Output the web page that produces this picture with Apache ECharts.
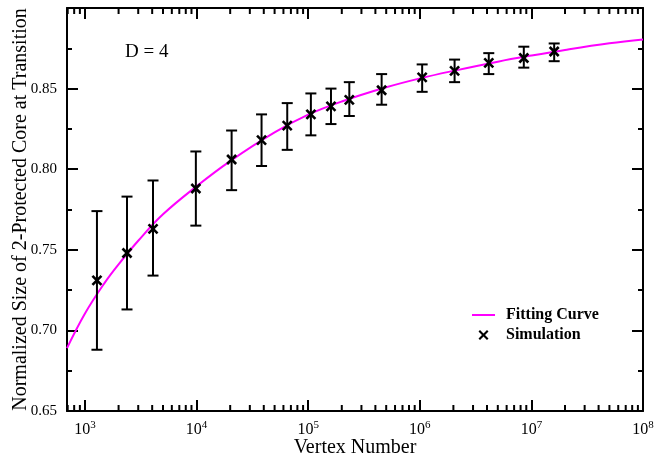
<!DOCTYPE html>
<html>
<head>
<meta charset="utf-8">
<script src="https://cdn.jsdelivr.net/npm/echarts@6/dist/echarts.min.js"></script>
<style>html,body{margin:0;padding:0;background:#fff}#c{width:654px;height:463px}</style>
</head>
<body>
<div id="c"></div>
<script>
// ---- data ----
const vertexN = [1280, 2380, 4070, 9850, 20600, 38200, 64900, 105700, 160000, 233600, 455000, 1050000, 2050000, 4150000, 8550000, 16000000];
const simMean = [0.731, 0.748, 0.763, 0.788, 0.806, 0.818, 0.827, 0.834, 0.839, 0.843, 0.849, 0.857, 0.861, 0.866, 0.869, 0.873];
const simLow  = [0.688, 0.713, 0.734, 0.765, 0.787, 0.802, 0.812, 0.821, 0.828, 0.833, 0.840, 0.848, 0.854, 0.859, 0.863, 0.867];
const simHigh = [0.774, 0.783, 0.793, 0.811, 0.824, 0.834, 0.841, 0.847, 0.850, 0.854, 0.859, 0.865, 0.868, 0.872, 0.876, 0.878];

const fitN   = [690, 1000, 1500, 2000, 3000, 5000, 10000, 20000, 50000, 100000, 200000, 500000, 1000000, 2000000, 5000000, 10000000, 20000000, 50000000, 100000000];
const fitVal = [0.689, 0.7105, 0.7295, 0.7410, 0.7556, 0.7720, 0.7894, 0.8050, 0.8228, 0.8338, 0.8420, 0.8508, 0.8563, 0.8610, 0.8667, 0.8705, 0.8740, 0.8781, 0.8805];

const xMin = 690, xMax = 100000000;
const yMin = 0.65, yMax = 0.90, yStep = 0.05;
const xMinorTicks = [];
for (let d = 2; d <= 7; d++) for (let m = 2; m <= 9; m++) {
  const v = m * Math.pow(10, d);
  if (v > xMin && v < xMax) xMinorTicks.push(v);
}

const FONT = 'Liberation Serif';
const chart = echarts.init(document.getElementById('c'), null, {renderer: 'canvas'});

const axisLineStyle = {color: '#000', width: 2};
const X_PATH = 'path://M0,1.5 L1.5,0 L5,3.5 L8.5,0 L10,1.5 L6.5,5 L10,8.5 L8.5,10 L5,6.5 L1.5,10 L0,8.5 L3.5,5 Z';
const LINE_PATH = 'path://M0,0 L23,0 L23,2 L0,2 Z';

chart.setOption({
  animation: false,
  backgroundColor: '#fff',
  grid: {left: 67, top: 8, width: 576, height: 403, containLabel: false, outerBoundsMode: 'none'},
  legend: {
    orient: 'vertical', left: 467, top: 302, itemWidth: 23, itemHeight: 10, itemGap: 4,
    textStyle: {fontFamily: FONT, fontWeight: 'bold', fontSize: 16, color: '#000', padding: [0, 0, 0, 6]},
    data: [
      {name: 'Fitting Curve', icon: LINE_PATH, itemStyle: {color: '#ff00ff'}},
      {name: 'Simulation', icon: X_PATH, itemStyle: {color: '#000'}}
    ]
  },
  graphic: [{
    type: 'text', left: 125, top: 43,
    style: {text: 'D = 4', fontFamily: FONT, fontSize: 19, fill: '#000'}
  }],
  xAxis: [{
    type: 'log', logBase: 10, min: xMin, max: xMax, position: 'bottom',
    name: 'Vertex Number', nameLocation: 'middle', nameGap: 27, nameMoveOverlap: false,
    nameTextStyle: {fontFamily: FONT, fontSize: 20, color: '#000'},
    axisLine: {lineStyle: axisLineStyle},
    axisTick: {inside: true, length: 11, lineStyle: {color: '#000', width: 2}},
    splitLine: {show: false},
    axisLabel: {
      showMinLabel: false, margin: 9, color: '#000', fontFamily: FONT, fontSize: 16,
      formatter: v => {
        const e = String(Math.round(Math.log10(v)));
        return '{b|10}{s|' + e + '}';
      },
      rich: {
        b: {fontFamily: FONT, fontSize: 16, color: '#000'},
        s: {fontFamily: FONT, fontSize: 11, color: '#000', padding: [0, 0, 9, 0]}
      }
    }
  }, {
    type: 'log', logBase: 10, min: xMin, max: xMax, position: 'top',
    axisLine: {lineStyle: axisLineStyle},
    axisTick: {inside: true, length: 11, lineStyle: {color: '#000', width: 2}},
    axisLabel: {show: false}, splitLine: {show: false}
  }],
  yAxis: [{
    type: 'value', min: yMin, max: yMax, interval: yStep, position: 'left',
    name: 'Normalized Size of 2-Protected Core at Transition', nameLocation: 'middle', nameGap: 36, nameMoveOverlap: false,
    nameTextStyle: {fontFamily: FONT, fontSize: 20, color: '#000'},
    axisLine: {show: true, lineStyle: axisLineStyle},
    axisTick: {show: true, inside: true, length: 11, lineStyle: {color: '#000', width: 2}},
    minorTick: {show: true, splitNumber: 2, length: 5, lineStyle: {color: '#000', width: 2}},
    splitLine: {show: false},
    axisLabel: {
      margin: 10, color: '#000', fontFamily: FONT, fontSize: 15, showMaxLabel: false,
      formatter: v => v.toFixed(2)
    }
  }, {
    type: 'value', min: yMin, max: yMax, interval: yStep, position: 'right',
    axisLine: {show: true, lineStyle: axisLineStyle},
    axisTick: {show: true, inside: true, length: 11, lineStyle: {color: '#000', width: 2}},
    minorTick: {show: true, splitNumber: 2, length: 5, lineStyle: {color: '#000', width: 2}},
    splitLine: {show: false},
    axisLabel: {show: false}
  }],
  series: [{
    name: 'Fitting Curve', type: 'line', xAxisIndex: 0, yAxisIndex: 0,
    data: fitN.map((n, i) => [n, fitVal[i]]),
    smooth: 0.4, symbol: 'none', lineStyle: {color: '#ff00ff', width: 2}, itemStyle: {color: '#ff00ff'},
    z: 2
  }, {
    name: 'Simulation', type: 'custom', xAxisIndex: 0, yAxisIndex: 0,
    data: vertexN.map((n, i) => [n, simMean[i], simLow[i], simHigh[i]]),
    encode: {x: 0, y: 1},
    itemStyle: {color: '#000'},
    z: 3,
    renderItem: (params, api) => {
      const c = api.coord([api.value(0), api.value(1)]);
      const lo = api.coord([api.value(0), api.value(2)]);
      const hi = api.coord([api.value(0), api.value(3)]);
      const st = {stroke: '#000', lineWidth: 2};
      const cap = 5.5, m = 4.5;
      return {
        type: 'group',
        children: [
          {type: 'line', shape: {x1: c[0], y1: lo[1], x2: c[0], y2: hi[1]}, style: st},
          {type: 'line', shape: {x1: c[0] - cap, y1: lo[1], x2: c[0] + cap, y2: lo[1]}, style: st},
          {type: 'line', shape: {x1: c[0] - cap, y1: hi[1], x2: c[0] + cap, y2: hi[1]}, style: st},
          {type: 'line', shape: {x1: c[0] - m, y1: c[1] - m, x2: c[0] + m, y2: c[1] + m}, style: {stroke: '#000', lineWidth: 2.6}},
          {type: 'line', shape: {x1: c[0] - m, y1: c[1] + m, x2: c[0] + m, y2: c[1] - m}, style: {stroke: '#000', lineWidth: 2.6}}
        ]
      };
    }
  }, {
    name: 'minorX', type: 'custom', xAxisIndex: 0, yAxisIndex: 0,
    data: xMinorTicks.map(v => [v, yMin]),
    encode: {x: 0, y: 1}, silent: true, z: 4,
    renderItem: (params, api) => {
      const b = api.coord([api.value(0), yMin]);
      const t = api.coord([api.value(0), yMax]);
      const st = {stroke: '#000', lineWidth: 2};
      return {
        type: 'group',
        children: [
          {type: 'line', shape: {x1: b[0], y1: b[1], x2: b[0], y2: b[1] - 6}, style: st},
          {type: 'line', shape: {x1: t[0], y1: t[1], x2: t[0], y2: t[1] + 6}, style: st}
        ]
      };
    }
  }]
});
</script>
</body>
</html>
